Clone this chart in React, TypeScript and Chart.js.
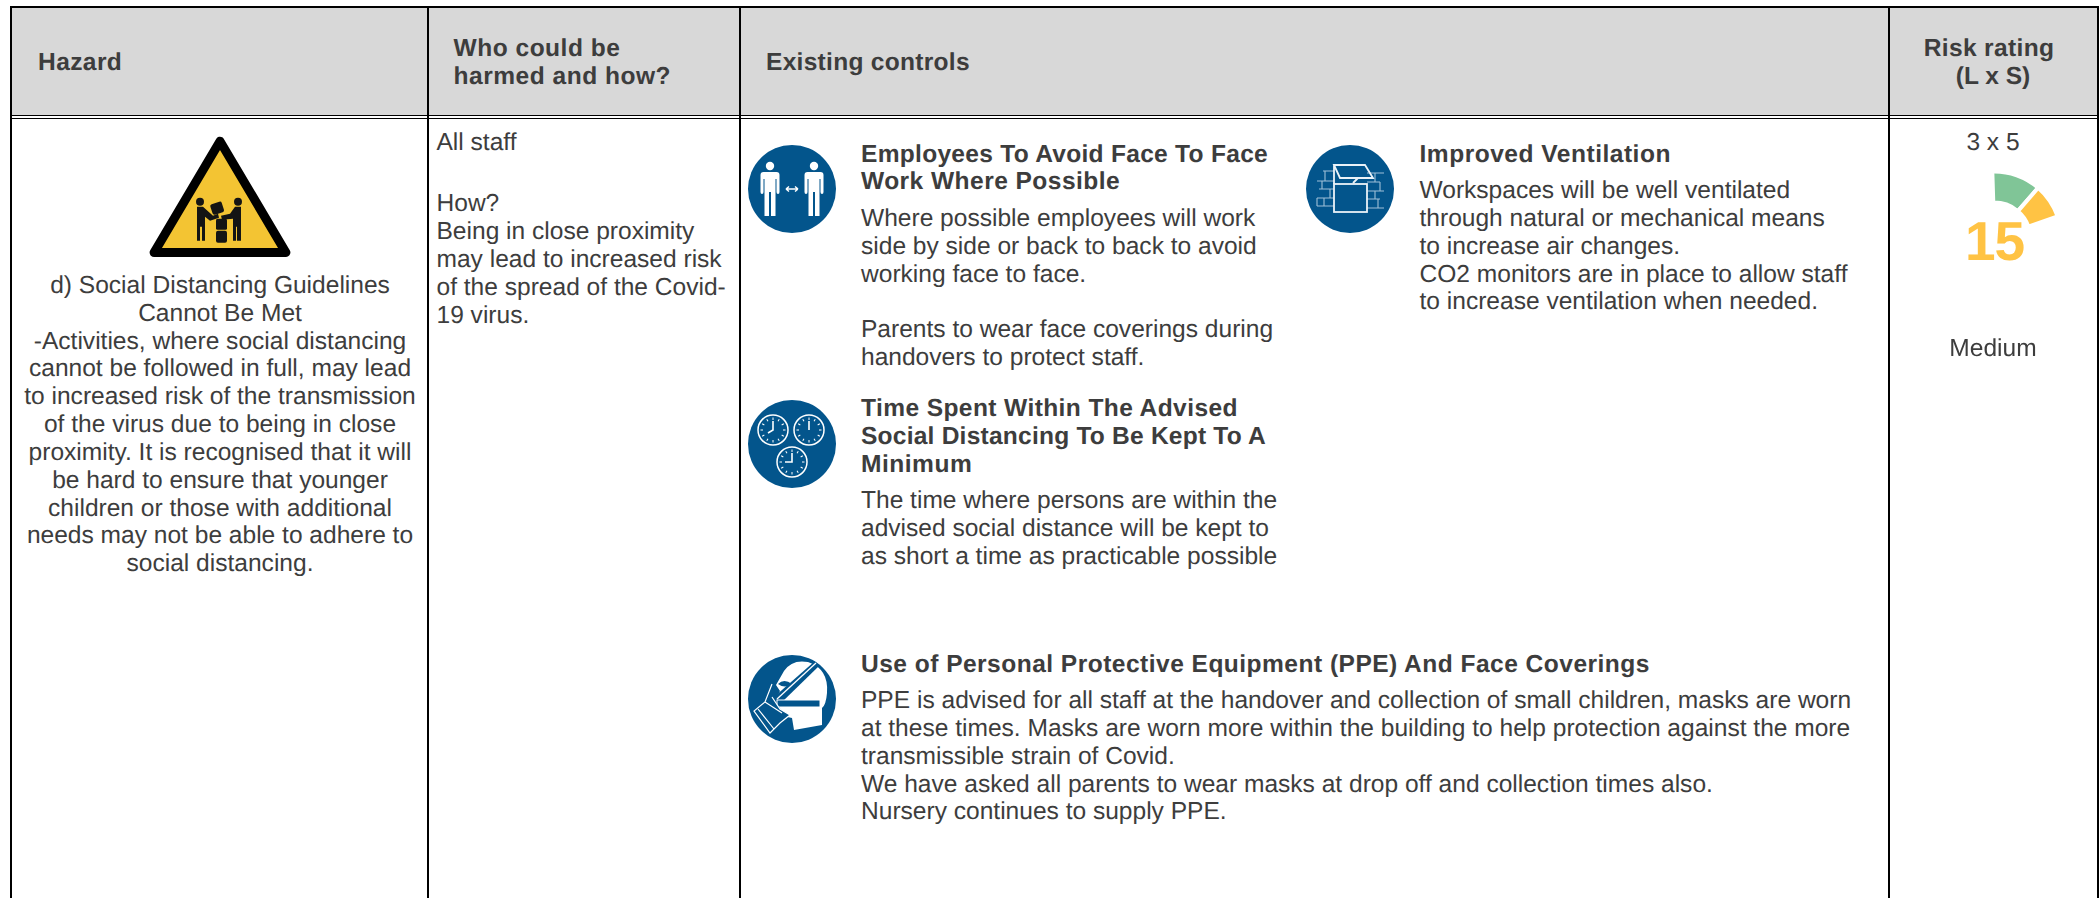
import React, { useEffect, useRef } from "react";
import { Chart, registerables } from "chart.js";

Chart.register(...registerables);

const gaugeLabels = ["Low band", "Medium band"];
const gaugeValues = [8.8, 6.2];
const gaugeColours = ["#80C597", "#FFC344"];
const riskScore = "15";
const riskRating = "Medium";
const riskFormula = "3 x 5";

const hazardLines = [
  "d) Social Distancing Guidelines",
  "Cannot Be Met",
  "-Activities, where social distancing",
  "cannot be followed in full, may lead",
  "to increased risk of the transmission",
  "of the virus due to being in close",
  "proximity. It is recognised that it will",
  "be hard to ensure that younger",
  "children or those with additional",
  "needs may not be able to adhere to",
  "social distancing.",
];
const whoLines: [string, number][] = [
  ["All staff", 142],
  ["How?", 202.8],
  ["Being in close proximity", 230.8],
  ["may lead to increased risk", 258.8],
  ["of the spread of the Covid-", 286.5],
  ["19 virus.", 314.4],
];
const blocks: { x: number; title: [string, number, number?][]; body: [string, number][] }[] = [
  {
    x: 861,
    title: [["Employees To Avoid Face To Face", 154, 0.28], ["Work Where Possible", 181, 0.45]],
    body: [
      ["Where possible employees will work", 218],
      ["side by side or back to back to avoid", 246],
      ["working face to face.", 274],
      ["Parents to wear face coverings during", 329],
      ["handovers to protect staff.", 357],
    ],
  },
  {
    x: 861,
    title: [
      ["Time Spent Within The Advised", 408, 0.4],
      ["Social Distancing To Be Kept To A", 436, 0.22],
      ["Minimum", 464, 0.5],
    ],
    body: [
      ["The time where persons are within the", 500],
      ["advised social distance will be kept to", 528],
      ["as short a time as practicable possible", 556],
    ],
  },
  {
    x: 1419.5,
    title: [["Improved Ventilation", 154, 0.5]],
    body: [
      ["Workspaces will be well ventilated", 190],
      ["through natural or mechanical means", 218],
      ["to increase air changes.", 246],
      ["CO2 monitors are in place to allow staff", 273.5],
      ["to increase ventilation when needed.", 301],
    ],
  },
  {
    x: 861,
    title: [["Use of Personal Protective Equipment (PPE) And Face Coverings", 664, 0.47]],
    body: [
      ["PPE is advised for all staff at the handover and collection of small children, masks are worn", 700],
      ["at these times. Masks are worn more within the building to help protection against the more", 728],
      ["transmissible strain of Covid.", 756],
      ["We have asked all parents to wear masks at drop off and collection times also.", 784],
      ["Nursery continues to supply PPE.", 811],
    ],
  },
];

const FONT = '"Liberation Sans", Arial, sans-serif';
const TEXT = "#3d3d3d";
const BLUE = "#03558C";
const BODY = 24.55;
const DY = 1.3;

function Line(p: { x: number; y: number; text: string; bold?: boolean; center?: boolean; size?: number; color?: string; spacing?: number }) {
  const size = p.size ?? BODY;
  return (
    <div
      style={{
        position: "absolute",
        left: p.x,
        top: p.y + DY,
        transform: p.center ? "translate(-50%,-50%)" : "translateY(-50%)",
        whiteSpace: "nowrap",
        fontFamily: FONT,
        fontSize: size,
        lineHeight: "1",
        fontWeight: p.bold ? 700 : 400,
        color: p.color ?? TEXT,
        letterSpacing: p.spacing ?? 0,
        textRendering: "geometricPrecision",
        fontKerning: "normal",
      }}
    >
      {p.text}
    </div>
  );
}

function Rule(p: { x: number; y: number; w: number; h: number }) {
  return <div style={{ position: "absolute", left: p.x, top: p.y, width: p.w, height: p.h, background: "#000" }} />;
}

function Person(p: { x: number }) {
  return (
    <g transform={`translate(${p.x},0)`} fill="#fff">
      <circle cx="0" cy="-23" r="4.2" />
      <path d="M-6.5 -17 H6.5 Q9.5 -17 9.5 -14 V3 Q9.5 5 8 5 Q6.5 5 6.5 3 V-10 H5.5 V27 H1 V3 H-1 V27 H-5.5 V-10 H-6.5 V3 Q-6.5 5 -8 5 Q-9.5 5 -9.5 3 V-14 Q-9.5 -17 -6.5 -17Z" />
    </g>
  );
}

function Clock(p: { x: number; y: number; hx: number; hy: number }) {
  const ticks = Array.from({ length: 12 }, (_, i) => i * 30);
  return (
    <g transform={`translate(${p.x},${p.y})`} stroke="#fff" fill="none">
      <circle r="15" strokeWidth="1.5" />
      {ticks.map((a) => (
        <line key={a} x1="0" y1="-12.5" x2="0" y2="-10" strokeWidth="1" transform={`rotate(${a})`} />
      ))}
      <path d={`M0 -9 V0 L${p.hx} ${p.hy}`} strokeWidth="1.6" />
    </g>
  );
}

function IconPeople() {
  return (
    <svg width="88" height="88" viewBox="-44 -44 88 88" style={{ position: "absolute", left: 748, top: 145 }}>
      <circle r="44" fill={BLUE} />
      <Person x={-22} />
      <Person x={22} />
      <path d="M-6 0 H6 M-6 0 L-3 -2.5 M-6 0 L-3 2.5 M6 0 L3 -2.5 M6 0 L3 2.5" stroke="#fff" strokeWidth="1.5" fill="none" />
    </svg>
  );
}

function IconClocks() {
  return (
    <svg width="88" height="88" viewBox="-44 -44 88 88" style={{ position: "absolute", left: 748, top: 400 }}>
      <circle r="44" fill={BLUE} />
      <Clock x={-19} y={-14} hx={-5} hy={3} />
      <Clock x={17} y={-14} hx={0} hy={0} />
      <Clock x={0} y={18} hx={-7} hy={0} />
    </svg>
  );
}

function IconVent() {
  return (
    <svg width="88" height="88" viewBox="-44 -44 88 88" style={{ position: "absolute", left: 1306, top: 145 }}>
      <circle r="44" fill={BLUE} />
      <g stroke="#9FC0D8" strokeWidth="1.1" fill="none">
        <path d="M-27 -18 H-16 M-33 -8 H-16 M-31 0 H-16 M-33 9 H-16 M-33 17 H-16 M-25 -18 V-8 M-28 -8 V0 M-20 0 V9 M-33 9 V17 M-26 9 V17" />
        <path d="M17 -16 H34 M17 -7 H30 M17 2 H34 M17 10 H30 M17 19 H34 M25 -16 V-7 M30 -7 V2 M25 2 V10 M28 10 V19" />
      </g>
      <g stroke="#EAF2F8" strokeWidth="1.8" fill="none">
        <rect x="-16" y="-5" width="33" height="28" />
        <path d="M-16 -24 H15 L23 -11 H-10 Z M-16 -24 V-5 M3 -6 L8 -11" />
      </g>
    </svg>
  );
}

function IconMask() {
  return (
    <svg width="88" height="88" viewBox="-44 -44 88 88" style={{ position: "absolute", left: 748, top: 654.5 }}>
      <defs>
        <clipPath id="c"><circle r="44" /></clipPath>
      </defs>
      <circle r="44" fill={BLUE} />
      <g clipPath="url(#c)">
        <path d="M-8 -28 Q0 -40 16 -37 Q37 -30 35 -6 Q34 6 30 9 L30 26 L2 31 L0 19 L-9 17 L-16 -1 L-12 -8 L-16 -14 Z" fill="#fff" />
        <path d="M-14 -15 Q-8 -21 0 -15 Q-7 -10 -14 -15Z" fill={BLUE} />
        <path d="M-18 -2 L-12 5 L27 -33 L23 -38 Z" fill={BLUE} />
        <path d="M-15 0 L24 -36" stroke="#fff" strokeWidth="1.3" fill="none" />
        <rect x="-15" y="1" width="43" height="7" fill={BLUE} stroke="#fff" strokeWidth="1" />
        <path d="M-20 -15 L-27 3 L-38 12 L-22 34 L-12 24 L-2 16 L-12 10 L-20 -2" stroke="#fff" strokeWidth="1.2" fill={BLUE} />
        <path d="M-27 3 L-10 14 M-34 10 L-18 30" stroke="#fff" strokeWidth="1.2" fill="none" />
      </g>
    </svg>
  );
}

function IconHazard() {
  return (
    <svg width="144" height="126" viewBox="0 0 144 126" style={{ position: "absolute", left: 148, top: 134 }}>
      <path d="M72 7.2 L137.9 118.5 H6.1 Z" fill="#F3C433" stroke="#000" strokeWidth="9" strokeLinejoin="round" />
      <g fill="#141414" transform="translate(2,0.7)">
        <circle cx="50" cy="67" r="4" />
        <circle cx="88" cy="67" r="4" />
        <path d="M47 72 H53 L63 81 L68 79 L69 83 L60 86 L55 82 V106 H52 V92 H50 V106 H47 V92 Z" />
        <path d="M85 72 H91 V92 V106 H87 V92 H86 V106 H83 V84 L72 85 L71 81 L80 79 Z" />
        <rect x="61" y="68" width="12" height="11" rx="2" transform="rotate(-18 67 73)" />
        <rect x="66" y="84" width="11" height="11" rx="1.5" />
        <rect x="66" y="96" width="11" height="12" rx="2" />
      </g>
    </svg>
  );
}

function Gauge() {
  const ref = useRef<HTMLCanvasElement | null>(null);
  useEffect(() => {
    if (!ref.current) return;
    const chart = new Chart(ref.current, {
      type: "doughnut",
      data: {
        labels: gaugeLabels,
        datasets: [
          {
            data: gaugeValues,
            backgroundColor: gaugeColours,
            borderColor: "#ffffff",
            borderWidth: 4,
            borderAlign: "center",
          },
        ],
      },
      options: {
        responsive: false,
        maintainAspectRatio: false,
        animation: false,
        rotation: -1.8,
        circumference: 72.6,
        radius: 67,
        cutout: "53.7%",
        plugins: { legend: { display: false }, tooltip: { enabled: false } },
      },
    });
    return () => chart.destroy();
  }, []);
  return <canvas ref={ref} width={120} height={100} style={{ position: "absolute", left: 1965, top: 149, width: 120, height: 100 }} />;
}

export default function App() {
  return (
    <div style={{ position: "absolute", left: 0, top: 0, width: 2100, height: 898, background: "#fff", overflow: "hidden" }}>
      <div style={{ position: "absolute", left: 11, top: 7, width: 2086, height: 108, background: "#D8D8D8" }} />
      <Rule x={10} y={6} w={2088} h={2} />
      <Rule x={10} y={115} w={2088} h={1.4} />
      <Rule x={10} y={117.5} w={2088} h={1.6} />
      <Rule x={10} y={6} w={2} h={892} />
      <Rule x={426.5} y={6} w={2} h={892} />
      <Rule x={738.5} y={6} w={2} h={892} />
      <Rule x={1888} y={6} w={2} h={892} />
      <Rule x={2096.5} y={6} w={2} h={892} />

      <Line x={38} y={61.5} text="Hazard" bold spacing={0.4} />
      <Line x={453.5} y={47.5} text="Who could be" bold spacing={0.5} />
      <Line x={453.5} y={75.5} text="harmed and how?" bold spacing={0.5} />
      <Line x={766} y={61.5} text="Existing controls" bold spacing={0.28} />
      <Line x={1989} y={47.5} text="Risk rating" bold center spacing={0.35} />
      <Line x={1993} y={75.5} text="(L x S)" bold center spacing={0} />

      <IconHazard />
      {hazardLines.map((t, i) => (
        <Line key={t} x={220} y={284.5 + i * 27.85} text={t} center />
      ))}
      {whoLines.map(([t, y]) => (
        <Line key={t} x={436.5} y={y} text={t} />
      ))}

      <IconPeople />
      <IconClocks />
      <IconVent />
      <IconMask />

      {blocks.map((b) => (
        <React.Fragment key={b.title[0][0]}>
          {b.title.map(([t, y, s]) => (
            <Line key={t} x={b.x} y={y} text={t} bold spacing={s ?? 0.5} />
          ))}
          {b.body.map(([t, y]) => (
            <Line key={t} x={b.x} y={y} text={t} />
          ))}
        </React.Fragment>
      ))}

      <Line x={1993} y={142} text={riskFormula} center />
      <Gauge />
      <Line x={1994.5} y={240} text={riskScore} bold center size={55} color="#FFC344" spacing={-1} />
      <Line x={1993} y={348} text={riskRating} center />
    </div>
  );
}
